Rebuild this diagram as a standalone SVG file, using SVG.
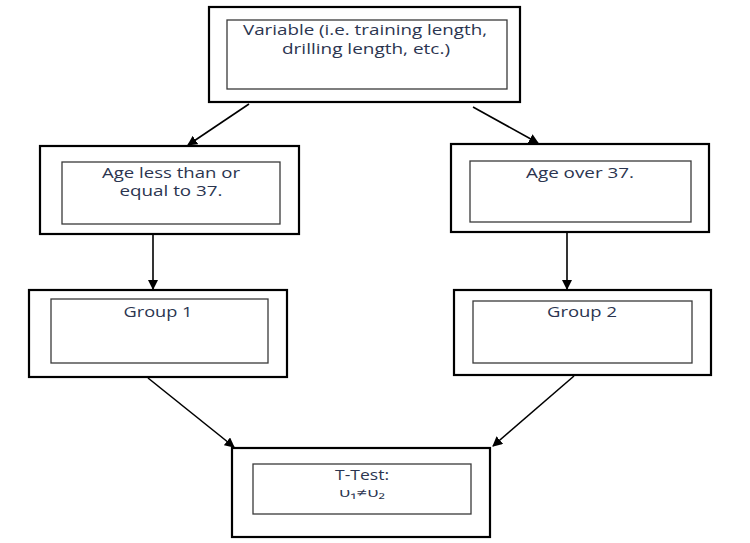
<svg xmlns="http://www.w3.org/2000/svg" width="750" height="543" viewBox="0 0 750 543">
<defs>
<marker id="ah" viewBox="0 0 10 10" refX="9" refY="5" markerWidth="10" markerHeight="10" markerUnits="userSpaceOnUse" orient="auto">
<path d="M0,0 L10,5 L0,10 z" fill="#000"/>
</marker>
<style>
.outer{fill:#fff;stroke:#000;stroke-width:2.2}
.inner{fill:#fff;stroke:#3a3a3a;stroke-width:1.3}
.t{font-family:"Open Sans","Liberation Sans",sans-serif;font-size:14px;fill:#2b3550;text-anchor:middle}
.c{stroke:#000;stroke-width:1.6;fill:none;marker-end:url(#ah)}
</style>
</defs>
<rect width="750" height="543" fill="#fff"/>
<g id="n-variable">
<rect class="outer" x="209" y="7" width="311" height="95"/>
<rect class="inner" x="227" y="20" width="280" height="69"/>
<text class="t" x="365" y="35" textLength="244" lengthAdjust="spacingAndGlyphs">Variable (i.e. training length,</text>
<text class="t" x="366" y="54" textLength="168" lengthAdjust="spacingAndGlyphs">drilling length, etc.)</text>
</g>
<g id="n-age-le">
<rect class="outer" x="40" y="146" width="259" height="88"/>
<rect class="inner" x="62" y="162" width="218" height="62"/>
<text class="t" x="171" y="178" textLength="138" lengthAdjust="spacingAndGlyphs">Age less than or</text>
<text class="t" x="171" y="196" textLength="103" lengthAdjust="spacingAndGlyphs">equal to 37.</text>
</g>
<g id="n-age-over">
<rect class="outer" x="451" y="144" width="258" height="88"/>
<rect class="inner" x="470" y="161" width="221" height="61"/>
<text class="t" x="580" y="178" textLength="108" lengthAdjust="spacingAndGlyphs">Age over 37.</text>
</g>
<g id="n-group1">
<rect class="outer" x="29" y="290" width="258" height="87"/>
<rect class="inner" x="51" y="299" width="217" height="64"/>
<text class="t" x="158" y="317" textLength="69" lengthAdjust="spacingAndGlyphs">Group 1</text>
</g>
<g id="n-group2">
<rect class="outer" x="454" y="290" width="257" height="85"/>
<rect class="inner" x="473" y="301" width="219" height="62"/>
<text class="t" x="582" y="317" textLength="70" lengthAdjust="spacingAndGlyphs">Group 2</text>
</g>
<g id="n-ttest">
<rect class="outer" x="232" y="448" width="258" height="89"/>
<rect class="inner" x="253" y="464" width="218" height="50"/>
<text class="t" x="362" y="480" textLength="54" lengthAdjust="spacingAndGlyphs">T-Test:</text>
<text class="t" x="362" y="497" textLength="46" lengthAdjust="spacingAndGlyphs" style="font-size:12px">υ₁≠υ₂</text>
</g>
<g id="connectors">
<line class="c" x1="249" y1="104" x2="188" y2="145"/>
<line class="c" x1="473" y1="107" x2="538" y2="143"/>
<line class="c" x1="153" y1="235" x2="153" y2="289"/>
<line class="c" x1="567" y1="233" x2="567" y2="289"/>
<line class="c" x1="148" y1="378" x2="234" y2="447"/>
<line class="c" x1="574" y1="376" x2="493" y2="446"/>
</g>
</svg>
